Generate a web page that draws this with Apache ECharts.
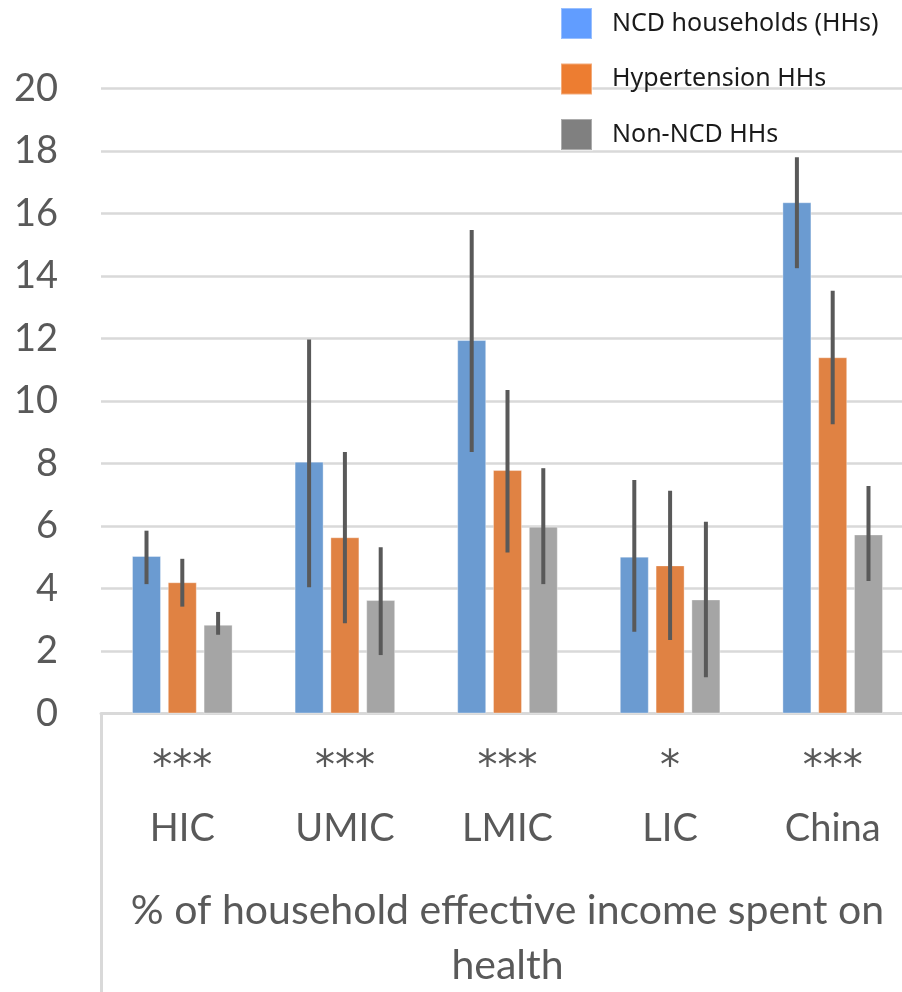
<!DOCTYPE html>
<html>
<head>
<meta charset="utf-8">
<script src="https://cdn.jsdelivr.net/npm/echarts@6/dist/echarts.min.js"></script>
<style>
  html, body { margin: 0; padding: 0; background: #fff; overflow: hidden; }
  #chart { width: 902px; height: 992px; }
</style>
</head>
<body>
<div id="chart"></div>
<script>
// Income groups and their significance markers
var categories = ['HIC', 'UMIC', 'LMIC', 'LIC', 'China'];
var significance = ['***', '***', '***', '*', '***'];

// Share of household effective income spent on health (%)
var seriesNames = ['NCD households (HHs)', 'Hypertension HHs', 'Non-NCD HHs'];
var ncdValues = [5.04, 8.06, 11.95, 5.02, 16.36];
var hypertensionValues = [4.20, 5.64, 7.79, 4.74, 11.40];
var nonNcdValues = [2.84, 3.63, 5.98, 3.65, 5.73];

// Confidence intervals (lower / upper bounds)
var ncdLow = [4.14, 4.04, 8.37, 2.62, 14.25];
var ncdHigh = [5.85, 11.97, 15.47, 7.47, 17.80];
var hypertensionLow = [3.42, 2.89, 5.15, 2.35, 9.26];
var hypertensionHigh = [4.95, 8.37, 10.35, 7.13, 13.53];
var nonNcdLow = [2.52, 1.87, 4.14, 1.16, 4.24];
var nonNcdHigh = [3.25, 5.32, 7.85, 6.14, 7.28];

// Y axis ticks
var yMin = 0, yMax = 20, yStep = 2;

var barColors = ['#6B9BD1', '#E08243', '#A5A5A5'];
var legendColors = ['#619DFF', '#ED7D31', '#808080'];
var BAR_FRAC = 0.1784;   // bar width as a share of the category band
var GAP_FRAC = 0.234;    // gap between bars as a share of bar width

var GRID_LEFT = 101, GRID_TOP = 88.5, GRID_W = 813, GRID_H = 625;
var FONT = 'Lato, "Open Sans", sans-serif';

var chart = echarts.init(document.getElementById('chart'), null, { renderer: 'canvas' });

function barSeries(i, values) {
  return {
    name: seriesNames[i],
    type: 'bar',
    data: values,
    barWidth: (BAR_FRAC * 100) + '%',
    barGap: (GAP_FRAC * 100) + '%',
    itemStyle: { color: barColors[i], borderColor: 'rgba(255,255,255,0.35)', borderWidth: 1 },
    z: 2
  };
}

function errorSeries(i, lows, highs) {
  var data = categories.map(function (c, k) { return [k, lows[k], highs[k]]; });
  return {
    type: 'custom',
    name: seriesNames[i] + ' CI',
    data: data,
    z: 5,
    silent: true,
    encode: { x: 0, y: [1, 2] },
    renderItem: function (params, api) {
      var band = api.size([1, 0])[0];
      var bw = band * BAR_FRAC;
      var offset = (i - 1) * bw * (1 + GAP_FRAC);
      var lo = api.coord([api.value(0), api.value(1)]);
      var hi = api.coord([api.value(0), api.value(2)]);
      return {
        type: 'line',
        shape: { x1: lo[0] + offset, y1: lo[1], x2: hi[0] + offset, y2: hi[1] },
        style: { stroke: '#595959', lineWidth: 4 }
      };
    }
  };
}

var option = {
  backgroundColor: '#ffffff',
  animation: false,
  textStyle: { fontFamily: FONT },
  legend: {
    orient: 'vertical',
    left: 560,
    top: 7,
    padding: 0,
    itemWidth: 31,
    itemHeight: 31,
    itemGap: 22.5,
    icon: 'rect',
    data: seriesNames.map(function (n, i) {
      return { name: n, itemStyle: { color: legendColors[i] } };
    }),
    textStyle: {
      fontFamily: '"Noto Sans", sans-serif',
      fontSize: 25,
      lineHeight: 31,
      color: '#1a1a1a',
      padding: [0, 0, 0, 15]
    }
  },
  grid: {
    left: GRID_LEFT, top: GRID_TOP, width: GRID_W, height: GRID_H,
    containLabel: false, outerBoundsMode: 'none'
  },
  xAxis: {
    type: 'category',
    data: categories,
    axisLine: { show: true, lineStyle: { color: '#D9D9D9', width: 3 } },
    axisTick: { show: false },
    axisLabel: {
      margin: 18,
      interval: 0,
      formatter: function (value, idx) {
        return '{s|' + significance[idx] + '}\n{c|' + value + '}';
      },
      rich: {
        s: { fontFamily: '"DejaVu Sans", sans-serif', fontSize: 40, lineHeight: 65, color: '#595959', padding: [16, 0, 6, 0] },
        c: { fontFamily: FONT, fontSize: 38, lineHeight: 65, color: '#595959' }
      }
    },
    name: '% of household effective income spent on\nhealth',
    nameLocation: 'middle',
    nameGap: 170,
    nameTextStyle: { fontFamily: FONT, fontSize: 41, lineHeight: 55, color: '#595959', verticalAlign: 'top' }
  },
  yAxis: {
    type: 'value',
    min: yMin,
    max: yMax,
    interval: yStep,
    axisLine: { show: false },
    axisTick: { show: false },
    axisLabel: { margin: 43, fontFamily: FONT, fontSize: 38, color: '#595959' },
    splitLine: { lineStyle: { color: '#D9D9D9', width: 2.5 } }
  },
  graphic: [{
    type: 'line',
    shape: { x1: GRID_LEFT + 0.5, y1: GRID_TOP + GRID_H, x2: GRID_LEFT + 0.5, y2: 992 },
    style: { stroke: '#D9D9D9', lineWidth: 3 },
    z: 1
  }],
  series: [
    barSeries(0, ncdValues),
    barSeries(1, hypertensionValues),
    barSeries(2, nonNcdValues),
    errorSeries(0, ncdLow, ncdHigh),
    errorSeries(1, hypertensionLow, hypertensionHigh),
    errorSeries(2, nonNcdLow, nonNcdHigh)
  ]
};

chart.setOption(option);
</script>
</body>
</html>
